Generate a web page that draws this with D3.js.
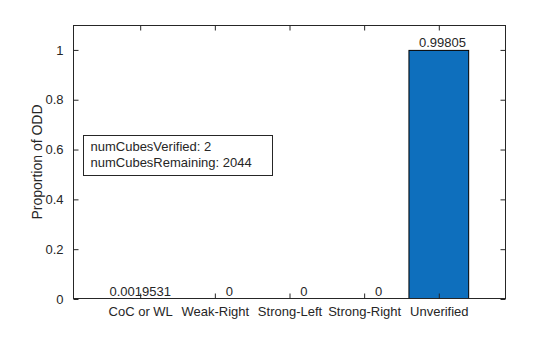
<!DOCTYPE html>
<html>
<head>
<meta charset="utf-8">
<script src="https://cdn.jsdelivr.net/npm/d3@7"></script>
<style>
  html, body { margin: 0; padding: 0; background: #fff; }
  svg text { font-family: "Liberation Sans", Arial, Helvetica, sans-serif; fill: #262626; }
  .vlabel { white-space: pre; }
</style>
</head>
<body>
<svg id="chart" width="560" height="337"></svg>
<script>
// Bar data: share of cubes in each verification outcome
const categories = ["CoC or WL", "Weak-Right", "Strong-Left", "Strong-Right", "Unverified"];
const values = [0.0019531, 0, 0, 0, 0.99805];
// value strings padded to a common width, as num2str produces for a column
const valueLabels = ["0.0019531", "        0", "        0", "        0", "  0.99805"];
const yTicks = [0, 0.2, 0.4, 0.6, 0.8, 1];
const yTickLabels = ["0", "0.2", "0.4", "0.6", "0.8", "1"];
const infoLines = ["numCubesVerified: 2", "numCubesRemaining: 2044"];

const svg = d3.select("#chart");
const m = { left: 73, right: 506, top: 25, bottom: 299 };
const axisColor = "#262626";
const fs = 13;

const x = d3.scaleLinear().domain([0.1, categories.length + 0.9]).range([m.left, m.right]);
const y = d3.scaleLinear().domain([0, 1.1]).range([m.bottom, m.top]);
const barW = (x(2) - x(1)) * 0.8;

// bars
svg.append("g").selectAll("rect").data(values).join("rect")
  .attr("x", (d, i) => x(i + 1) - barW / 2)
  .attr("width", barW)
  .attr("y", d => y(d))
  .attr("height", d => Math.max(0, y(0) - y(d) - 0.5))
  .attr("fill", "#0e6fbd")
  .attr("stroke", d => d > 0.01 ? "#000" : "none")
  .attr("stroke-width", 1);

// box around axes
svg.append("rect")
  .attr("x", m.left + 0.5).attr("y", m.top + 0.5)
  .attr("width", m.right - m.left - 1).attr("height", m.bottom - m.top - 1)
  .attr("fill", "none").attr("stroke", axisColor).attr("stroke-width", 1);

// axes with inward ticks on all four sides
const tickLen = 5;
const xBottom = d3.axisBottom(x).tickValues(d3.range(1, categories.length + 1))
  .tickFormat((d) => categories[d - 1]).tickSizeInner(-tickLen).tickSizeOuter(0).tickPadding(8);
const gx = svg.append("g").attr("transform", `translate(0,${m.bottom - 0.5})`).call(xBottom);
const xTop = d3.axisTop(x).tickValues(d3.range(1, categories.length + 1))
  .tickFormat("").tickSizeInner(-tickLen).tickSizeOuter(0);
const gxt = svg.append("g").attr("transform", `translate(0,${m.top + 0.5})`).call(xTop);

const yLeft = d3.axisLeft(y).tickValues(yTicks).tickFormat((d, i) => yTickLabels[i])
  .tickSizeInner(-tickLen).tickSizeOuter(0).tickPadding(10);
const gy = svg.append("g").attr("transform", `translate(${m.left + 0.5},0)`).call(yLeft);
const yRight = d3.axisRight(y).tickValues(yTicks).tickFormat("").tickSizeInner(-tickLen).tickSizeOuter(0);
const gyr = svg.append("g").attr("transform", `translate(${m.right - 0.5},0)`).call(yRight);

[gx, gxt, gy, gyr].forEach(g => {
  g.select(".domain").remove();
  g.selectAll(".tick line").attr("stroke", axisColor);
  g.selectAll(".tick text").attr("font-size", fs).attr("fill", axisColor)
    .attr("font-family", "'Liberation Sans', Arial, Helvetica, sans-serif");
});

// value labels above each bar
svg.append("g").selectAll("text").data(values).join("text")
  .attr("class", "vlabel")
  .attr("x", (d, i) => x(i + 1))
  .attr("y", d => y(d) - 3)
  .attr("text-anchor", "middle")
  .attr("font-size", fs)
  .text((d, i) => valueLabels[i]);

// y axis title
svg.append("text")
  .attr("transform", `translate(42,${(m.top + m.bottom) / 2}) rotate(-90)`)
  .attr("text-anchor", "middle")
  .attr("font-size", 14)
  .text("Proportion of ODD");

// annotation box
const box = svg.append("g").attr("transform", "translate(83.5,135.5)");
box.append("rect").attr("width", 189).attr("height", 40)
  .attr("fill", "#fff").attr("stroke", axisColor).attr("stroke-width", 1);
box.selectAll("text").data(infoLines).join("text")
  .attr("x", 7).attr("y", (d, i) => 15.5 + i * 16)
  .attr("font-size", fs)
  .text(d => d);
</script>
</body>
</html>
